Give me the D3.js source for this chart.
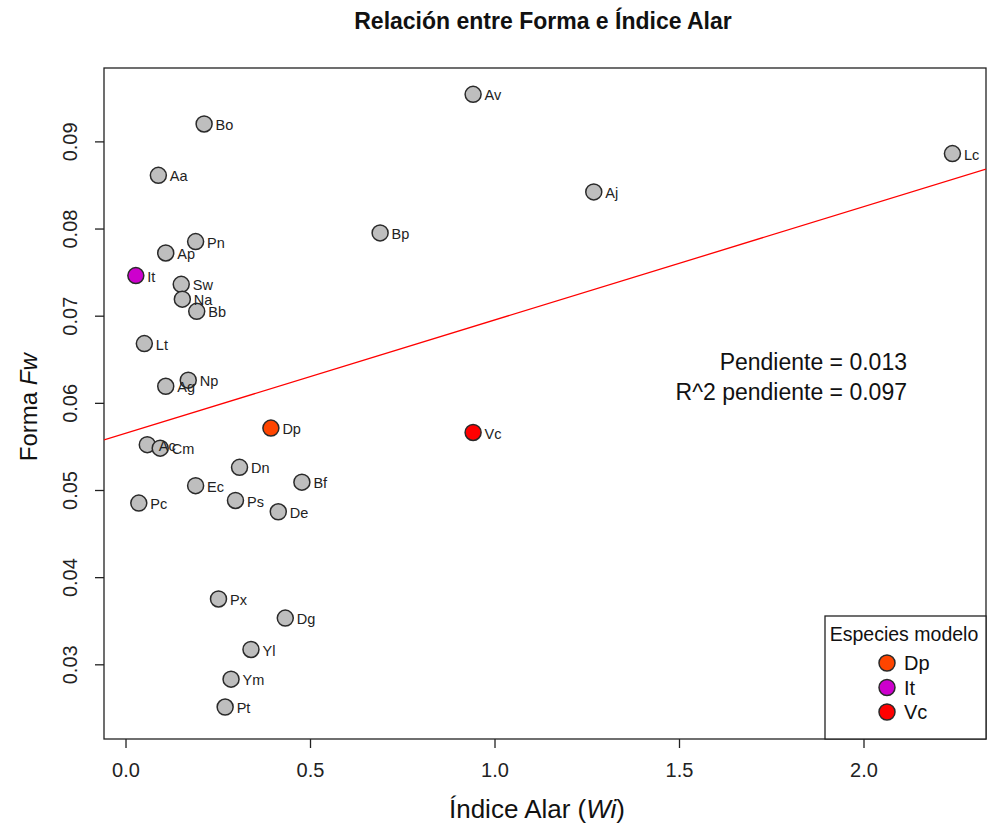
<!DOCTYPE html>
<html lang="es">
<head>
<meta charset="UTF-8">
<title>Relación entre Forma e Índice Alar</title>
<script src="https://d3js.org/d3.v7.min.js"></script>
<style>
  body { margin: 0; background: #fff; }
  text { font-family: "Liberation Sans", Arial, sans-serif; }
</style>
</head>
<body>
<svg id="chart" width="987" height="829"></svg>
<script>
// datos
var especies = ["Av","Bo","Aa","Lc","Aj","Bp","Pn","Ap","It","Sw","Na","Bb","Lt","Np","Ag",
                "Dp","Vc","Ac","Cm","Dn","Bf","Ec","Ps","Pc","De","Px","Dg","Yl","Ym","Pt"];
var indiceAlar = [0.942,0.213,0.089,2.241,1.269,0.690,0.190,0.109,0.028,0.151,0.154,0.193,0.051,0.170,0.109,
                  0.394,0.942,0.059,0.094,0.309,0.478,0.190,0.298,0.036,0.414,0.252,0.433,0.340,0.286,0.270];
var forma = [0.0954,0.0920,0.0861,0.0886,0.0842,0.0795,0.0785,0.0772,0.0746,0.0736,0.0719,0.0705,0.0668,0.0626,0.0619,
             0.0571,0.0566,0.0552,0.0548,0.0526,0.0509,0.0505,0.0488,0.0485,0.0475,0.0375,0.0353,0.0317,0.0283,0.0251];

var modelos = ["Dp","It","Vc"];
var coloresModelo = ["#FF4500","#CD00CD","#FF0000"];

// recta de regresión (intercepto, pendiente)
var recta = [0.0565, 0.0130];
var textoAjuste = ["Pendiente = 0.013", "R^2 pendiente = 0.097"];

var xTicks = [0, 0.5, 1, 1.5, 2];
var yTicks = [0.03, 0.04, 0.05, 0.06, 0.07, 0.08, 0.09];
var xLim = [-0.0583, 2.332];
var yLim = [0.02143, 0.09842];

var svg = d3.select('#chart');
var mLeft = 104, mRight = 986, mTop = 68, mBottom = 739;

var x = d3.scaleLinear().domain(xLim).range([mLeft, mRight]);
var y = d3.scaleLinear().domain(yLim).range([mBottom, mTop]);

var datos = especies.map(function (d, i) {
  return { nombre: d, wi: indiceAlar[i], fw: forma[i] };
});
var colorDe = d3.scaleOrdinal().domain(modelos).range(coloresModelo).unknown("#BEBEBE");

svg.append('clipPath').attr('id', 'clip')
  .append('rect').attr('x', mLeft).attr('y', mTop).attr('width', mRight - mLeft).attr('height', mBottom - mTop);

// ejes
var xAxis = svg.append('g').attr('transform', 'translate(0,' + mBottom + ')')
  .call(d3.axisBottom(x).tickValues(xTicks).tickFormat(d3.format('.1f')).tickSize(9).tickPadding(15));
var yAxis = svg.append('g').attr('transform', 'translate(' + mLeft + ',0)')
  .call(d3.axisLeft(y).tickValues(yTicks).tickFormat(d3.format('.2f')).tickSize(9).tickPadding(8));
[xAxis, yAxis].forEach(function (a) {
  a.select('.domain').remove();
  a.selectAll('line').attr('stroke', '#222').attr('stroke-width', 1.3);
  a.selectAll('text').attr('font-size', 20).attr('fill', '#222')
    .style('font-family', '"Liberation Sans", Arial, sans-serif');
});
yAxis.selectAll('.tick text')
  .attr('transform', 'rotate(-90)')
  .attr('x', 0).attr('y', -34).attr('dy', '0.35em').attr('text-anchor', 'middle');

// caja del gráfico
svg.append('rect').attr('x', mLeft).attr('y', mTop).attr('width', mRight - mLeft).attr('height', mBottom - mTop)
  .attr('fill', 'none').attr('stroke', '#222').attr('stroke-width', 1.3);

// recta
svg.append('line').attr('clip-path', 'url(#clip)')
  .attr('x1', x(xLim[0])).attr('y1', y(recta[0] + recta[1] * xLim[0]))
  .attr('x2', x(xLim[1])).attr('y2', y(recta[0] + recta[1] * xLim[1]))
  .attr('stroke', '#FF0000').attr('stroke-width', 1.3);

// puntos: primero grises, luego modelos
var orden = datos.filter(function (d) { return modelos.indexOf(d.nombre) < 0; })
  .concat(datos.filter(function (d) { return modelos.indexOf(d.nombre) >= 0; }));

svg.append('g').selectAll('circle').data(orden).enter().append('circle')
  .attr('cx', function (d) { return x(d.wi); })
  .attr('cy', function (d) { return y(d.fw); })
  .attr('r', 8)
  .attr('fill', function (d) { return colorDe(d.nombre); })
  .attr('stroke', '#2a2a2a').attr('stroke-width', 1.5);

svg.append('g').selectAll('text').data(datos).enter().append('text')
  .attr('x', function (d) { return x(d.wi) + 11.5; })
  .attr('y', function (d) { return y(d.fw) + 1; })
  .attr('dy', '0.35em')
  .attr('font-size', 14.5).attr('fill', '#222')
  .text(function (d) { return d.nombre; });

// texto del ajuste
svg.append('g').selectAll('text').data(textoAjuste).enter().append('text')
  .attr('x', 907).attr('y', function (d, i) { return 370 + i * 30; })
  .attr('text-anchor', 'end').attr('font-size', 23).attr('fill', '#111')
  .text(function (d) { return d; });

// título
svg.append('text').attr('x', (mLeft + mRight) / 2 - 2).attr('y', 29)
  .attr('text-anchor', 'middle').attr('font-size', 23).attr('font-weight', 'bold').attr('fill', '#111')
  .text('Relación entre Forma e Índice Alar');

// títulos de ejes
var xt = svg.append('text').attr('x', (mLeft + mRight) / 2 - 8).attr('y', 818)
  .attr('text-anchor', 'middle').attr('font-size', 26).attr('fill', '#111');
xt.append('tspan').text('Índice Alar (');
xt.append('tspan').attr('font-style', 'italic').text('Wi');
xt.append('tspan').text(')');

var yt = svg.append('text').attr('transform', 'translate(37,' + y(0.0595) + ') rotate(-90)')
  .attr('text-anchor', 'middle').attr('font-size', 24).attr('fill', '#111');
yt.append('tspan').text('Forma ');
yt.append('tspan').attr('font-style', 'italic').text('Fw');

// leyenda
var lg = svg.append('g');
lg.append('rect').attr('x', 825).attr('y', 616).attr('width', mRight - 825).attr('height', mBottom - 616)
  .attr('fill', '#fff').attr('stroke', '#222').attr('stroke-width', 1.3);
lg.append('text').attr('x', 904).attr('y', 641).attr('text-anchor', 'middle')
  .attr('font-size', 19.5).attr('fill', '#111').text('Especies modelo');
var items = lg.selectAll('.item').data(modelos).enter().append('g')
  .attr('transform', function (d, i) { return 'translate(887,' + (663 + i * 24.5) + ')'; });
items.append('circle').attr('r', 8)
  .attr('fill', function (d) { return colorDe(d); })
  .attr('stroke', '#2a2a2a').attr('stroke-width', 1.5);
items.append('text').attr('x', 17).attr('dy', '0.36em').attr('font-size', 20).attr('fill', '#111')
  .text(function (d) { return d; });
</script>
</body>
</html>
